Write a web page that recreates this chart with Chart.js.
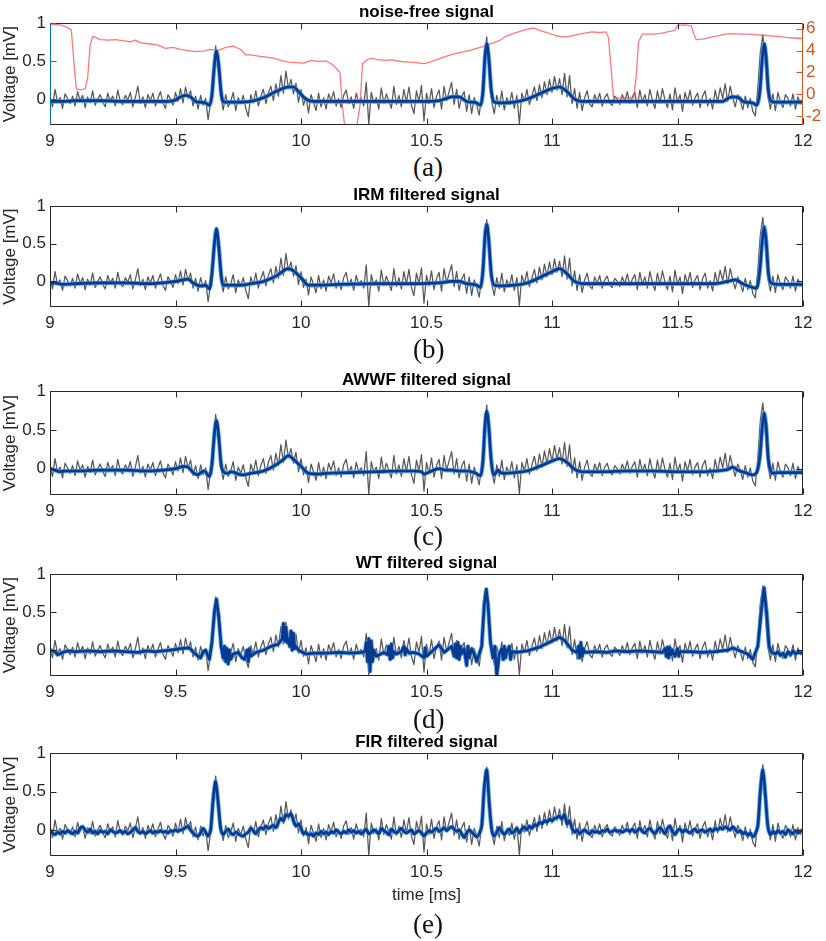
<!DOCTYPE html>
<html>
<head>
<meta charset="utf-8">
<script src="https://cdn.jsdelivr.net/npm/chart.js@4.4.1/dist/chart.umd.min.js"></script>
<style>
  body { margin: 0; background: #fff; width: 826px; height: 941px; position: relative; overflow: hidden; }
  canvas { position: absolute; left: 0; }
  .cap { position: absolute; left: 413px; font-family: "Liberation Serif", "Times New Roman", serif; font-size: 27px; line-height: 28px; color: #111; }
</style>
</head>
<body>
<canvas id="pa" width="826" height="149" style="top:0px"></canvas>
<canvas id="pb" width="826" height="148" style="top:183px"></canvas>
<canvas id="pc" width="826" height="151" style="top:368px"></canvas>
<canvas id="pd" width="826" height="149" style="top:551px"></canvas>
<canvas id="pe" width="826" height="176" style="top:730px"></canvas>
<div class="cap" style="top:153px">(a)</div>
<div class="cap" style="top:335px">(b)</div>
<div class="cap" style="top:522px">(c)</div>
<div class="cap" style="top:705px">(d)</div>
<div class="cap" style="top:910px">(e)</div>
<script>
// tick labels
const xTicks = [9, 9.5, 10, 10.5, 11, 11.5, 12];
const yTicks = [0, 0.5, 1];
const rightTicks = [-2, 0, 2, 4, 6];

// noisy input (grey), sampled every 0.01 ms from 9.00
const sampleStart = 9.0;
const sampleStep = 0.01;
const noisySignal = [
  0.03, -0.10, 0.13, -0.04, 0.02, -0.12, 0.07, 0.01, -0.06, 0.04,
  -0.09, 0.10, -0.02, 0.05, -0.11, 0.03, -0.05, 0.11, -0.08, 0.00,
  0.06, -0.04, -0.10, 0.08, -0.02, 0.04, -0.09, 0.12, -0.03, -0.07,
  0.05, -0.01, 0.09, -0.10, 0.02, 0.17, -0.06, 0.03, -0.11, 0.06,
  -0.02, 0.08, -0.09, 0.01, 0.10, -0.05, -0.12, 0.06, 0.00, -0.08,
  0.09, -0.03, 0.14, -0.05, 0.16, 0.01, 0.11, -0.09, 0.04, -0.13,
  0.05, -0.08, 0.01, -0.27, -0.04, 0.35, 0.70, 0.40, 0.03, -0.14,
  0.06, -0.10, -0.03, 0.09, -0.15, 0.02, -0.06, 0.05, -0.12, -0.23,
  0.06, -0.05, 0.11, -0.09, 0.04, 0.13, -0.06, 0.08, 0.17, -0.02,
  0.20, 0.04, 0.31, 0.08, 0.37, 0.14, 0.26, 0.07, 0.21, -0.04,
  0.13, -0.08, 0.03, -0.18, 0.06, -0.04, -0.15, 0.08, -0.10, 0.02,
  -0.13, 0.07, -0.02, 0.10, -0.09, 0.01, -0.11, 0.05, 0.12, -0.06,
  0.03, -0.12, 0.08, -0.04, 0.01, -0.09, 0.22, -0.33, 0.09, -0.05,
  0.02, -0.13, 0.15, -0.06, 0.07, -0.02, -0.12, 0.17, -0.07, 0.05,
  -0.10, 0.13, -0.04, 0.16, -0.08, -0.19, 0.11, -0.03, 0.18, -0.29,
  0.08, -0.06, 0.14, -0.11, 0.04, 0.12, -0.13, 0.17, -0.02, 0.10,
  0.22, -0.07, 0.13, -0.12, 0.03, 0.10, -0.16, 0.06, -0.19, 0.02,
  -0.08, -0.21, 0.06, 0.55, 0.82, 0.30, -0.04, -0.19, 0.05, -0.10,
  0.11, -0.14, 0.02, -0.07, 0.09, -0.12, 0.05, -0.32, 0.08, -0.03,
  0.13, -0.07, 0.05, 0.16, -0.02, 0.19, 0.02, 0.23, 0.06, 0.26,
  0.09, 0.30, 0.12, 0.27, 0.06, 0.34, 0.03, 0.31, -0.06, 0.14,
  -0.12, 0.09, -0.15, 0.02, 0.11, -0.06, -0.10, 0.06, -0.03, 0.08,
  -0.09, 0.02, 0.07, -0.05, -0.08, 0.04, 0.00, -0.07, 0.06, -0.03,
  0.10, -0.06, 0.03, 0.09, -0.11, 0.12, -0.04, 0.06, -0.09, 0.13,
  -0.02, -0.12, 0.11, -0.05, 0.14, -0.01, -0.11, 0.07, -0.14, 0.15,
  -0.04, 0.06, -0.16, 0.09, -0.03, 0.12, -0.08, 0.02, 0.08, -0.11,
  0.04, 0.11, -0.09, 0.01, -0.13, 0.12, -0.04, 0.15, 0.01, 0.20,
  -0.03, 0.17, 0.02, -0.10, 0.06, -0.02, -0.14, 0.04, -0.11, 0.01,
  -0.16, -0.22, 0.15, 0.62, 0.85, 0.45, 0.04, -0.13, 0.07, -0.15,
  0.09, -0.04, -0.11, 0.06, 0.01, -0.09, 0.07, -0.13, 0.03, -0.06,
  0.02
];

// FIR output, same sampling as the noisy input
const firSignal = [
  0.00, -0.04, -0.06, -0.03, -0.05, -0.02, -0.04, -0.01, -0.03, -0.05,
  -0.02, -0.04, 0.02, 0.04, 0.00, -0.03, 0.01, -0.04, -0.02, -0.05,
  -0.01, -0.03, -0.02, -0.05, 0.00, -0.02, -0.04, -0.03, -0.01, -0.04,
  -0.02, -0.05, -0.03, 0.00, 0.03, -0.02, -0.04, -0.02, -0.05, -0.03,
  -0.01, -0.04, -0.02, -0.03, -0.01, -0.03, -0.02, -0.04, -0.01, -0.02,
  0.00, -0.02, 0.00, 0.01, 0.03, 0.05, 0.00, -0.04, -0.07, -0.08,
  -0.04, 0.02, -0.03, -0.08, 0.00, 0.40, 0.63, 0.35, 0.02, -0.06,
  -0.02, 0.01, -0.04, -0.06, -0.03, -0.05, -0.07, -0.08, -0.05, -0.03,
  0.02, -0.01, -0.05, 0.00, 0.03, 0.01, 0.05, 0.02, 0.04, 0.06,
  0.03, 0.10, 0.15, 0.12, 0.20, 0.18, 0.21, 0.12, 0.05, 0.08,
  0.02, -0.05, -0.03, -0.07, -0.05, -0.08, -0.04, -0.06, -0.02, -0.05,
  -0.03, -0.06, -0.02, -0.04, 0.00, -0.03, -0.05, -0.02, -0.04, 0.00,
  -0.03, -0.01, -0.04, -0.02, -0.05, -0.02, 0.01, -0.05, -0.03, 0.00,
  -0.02, -0.05, 0.02, -0.01, -0.03, -0.06, 0.01, -0.02, -0.04, -0.01,
  0.02, -0.02, -0.04, -0.02, 0.00, -0.05, -0.03, -0.01, -0.04, -0.08,
  -0.04, -0.01, -0.03, 0.00, 0.02, -0.02, 0.00, 0.03, -0.01, 0.02,
  0.04, 0.01, -0.02, 0.00, -0.05, -0.10, -0.04, 0.00, -0.03, -0.06,
  -0.09, -0.05, 0.05, 0.55, 0.78, 0.35, 0.00, -0.08, -0.03, 0.03,
  -0.02, -0.06, -0.02, 0.01, -0.04, -0.02, 0.02, -0.04, 0.01, 0.04,
  0.00, 0.05, 0.02, 0.07, 0.05, 0.10, 0.08, 0.12, 0.10, 0.14,
  0.12, 0.15, 0.16, 0.18, 0.14, 0.20, 0.08, 0.12, 0.02, -0.03,
  0.00, -0.05, -0.02, 0.00, -0.03, -0.05, -0.01, -0.03, -0.02, -0.04,
  -0.01, -0.02, 0.01, -0.03, -0.02, 0.00, -0.02, -0.01, -0.03, -0.01,
  0.00, -0.02, 0.01, -0.03, -0.01, 0.02, -0.02, -0.04, 0.00, 0.02,
  -0.02, -0.05, 0.00, 0.03, -0.01, -0.05, 0.02, 0.05, -0.02, -0.06,
  -0.01, 0.01, -0.03, 0.00, -0.02, -0.04, -0.01, 0.01, -0.03, -0.01,
  0.00, -0.03, -0.01, 0.01, -0.02, 0.02, 0.00, 0.03, 0.01, 0.04,
  0.02, 0.00, 0.04, 0.01, -0.03, -0.01, -0.05, -0.03, -0.07, -0.04,
  -0.09, -0.05, 0.05, 0.50, 0.78, 0.45, 0.05, -0.06, -0.02, -0.05,
  -0.01, -0.04, -0.02, -0.06, 0.00, -0.03, -0.05, -0.01, -0.04, -0.02,
  0.00
];

// noise-free reference (a)
const cleanTime = [9.00, 9.05, 9.10, 9.20, 9.30, 9.40, 9.47, 9.50, 9.52, 9.54, 9.56, 9.58, 9.60, 9.62, 9.635, 9.645, 9.655, 9.663, 9.672, 9.682, 9.69, 9.70, 9.75, 9.80, 9.85, 9.90, 9.95, 9.97, 9.99, 10.02, 10.05, 10.10, 10.30, 10.50, 10.55, 10.58, 10.60, 10.63, 10.66, 10.70, 10.715, 10.725, 10.733, 10.74, 10.748, 10.758, 10.77, 10.80, 10.85, 10.90, 10.95, 11.00, 11.03, 11.06, 11.09, 11.12, 11.30, 11.60, 11.68, 11.70, 11.72, 11.745, 11.76, 11.80, 11.815, 11.828, 11.838, 11.845, 11.853, 11.862, 11.875, 11.90, 12.00];
const cleanSignal = [-0.03, -0.03, -0.02, -0.02, -0.03, -0.03, -0.03, -0.01, 0.03, 0.05, 0.03, -0.03, -0.04, -0.05, -0.08, 0.05, 0.45, 0.63, 0.45, 0.08, -0.03, -0.04, -0.04, -0.03, 0.02, 0.10, 0.16, 0.16, 0.10, 0.00, -0.03, -0.03, -0.03, -0.03, -0.02, 0.01, 0.03, 0.03, -0.03, -0.05, -0.08, 0.10, 0.55, 0.73, 0.55, 0.12, -0.04, -0.05, -0.04, 0.00, 0.07, 0.14, 0.16, 0.10, 0.00, -0.03, -0.03, -0.03, -0.03, 0.01, 0.03, 0.02, -0.03, -0.05, -0.08, 0.10, 0.55, 0.73, 0.55, 0.12, -0.03, -0.04, -0.04];

// channel on the right axis of (a)
const redTime = [9.00, 9.02, 9.04, 9.06, 9.075, 9.085, 9.095, 9.105, 9.12, 9.14, 9.15, 9.16, 9.17, 9.18, 9.20, 9.23, 9.26, 9.29, 9.32, 9.34, 9.36, 9.40, 9.43, 9.46, 9.49, 9.52, 9.55, 9.58, 9.61, 9.64, 9.67, 9.70, 9.73, 9.76, 9.78, 9.80, 9.83, 9.86, 9.89, 9.92, 9.95, 9.98, 10.01, 10.04, 10.07, 10.10, 10.12, 10.14, 10.155, 10.165, 10.175, 10.22, 10.235, 10.245, 10.26, 10.28, 10.30, 10.33, 10.36, 10.40, 10.43, 10.46, 10.49, 10.52, 10.55, 10.58, 10.61, 10.64, 10.67, 10.70, 10.73, 10.76, 10.79, 10.82, 10.85, 10.88, 10.91, 10.93, 10.95, 10.98, 11.01, 11.04, 11.07, 11.10, 11.13, 11.16, 11.19, 11.215, 11.225, 11.235, 11.245, 11.27, 11.30, 11.325, 11.335, 11.345, 11.36, 11.40, 11.43, 11.46, 11.49, 11.50, 11.53, 11.555, 11.565, 11.575, 11.60, 11.63, 11.66, 11.69, 11.72, 11.75, 11.78, 11.81, 11.84, 11.87, 11.90, 11.93, 11.96, 12.00];
const redValues = [6.35, 6.4, 6.35, 6.2, 6.0, 5.9, 3.0, 0.5, 0.4, 0.5, 1.5, 4.5, 5.3, 5.2, 5.0, 4.95, 5.0, 4.9, 4.8, 4.95, 4.7, 4.6, 4.5, 4.2, 4.3, 4.1, 4.0, 3.9, 3.95, 4.1, 4.0, 4.3, 4.4, 4.1, 3.6, 3.6, 3.5, 3.4, 3.3, 3.1, 2.95, 2.9, 2.85, 3.1, 3.0, 3.05, 2.8, 2.4, 2.0, -1.0, -3.2, -3.2, -1.0, 2.8, 3.1, 3.3, 3.2, 3.1, 3.15, 3.0, 2.95, 2.9, 2.8, 3.0, 3.25, 3.5, 3.7, 3.85, 4.0, 4.2, 4.4, 4.65, 4.9, 5.35, 5.6, 5.8, 6.0, 6.05, 5.85, 5.65, 5.4, 5.25, 5.3, 5.45, 5.6, 5.7, 5.65, 5.7, 5.2, 2.5, -0.3, -0.35, -0.3, -0.35, 1.5, 4.8, 5.5, 5.5, 5.55, 5.7, 5.85, 6.3, 6.35, 6.25, 5.5, 5.0, 5.05, 5.2, 5.35, 5.5, 5.55, 5.5, 5.5, 5.45, 5.4, 5.35, 5.3, 5.2, 5.15, 5.1];

// IRM (b)
const irmTime = [9.00, 9.02, 9.05, 9.10, 9.20, 9.30, 9.40, 9.45, 9.50, 9.53, 9.55, 9.57, 9.60, 9.62, 9.635, 9.645, 9.655, 9.663, 9.672, 9.682, 9.69, 9.72, 9.76, 9.80, 9.85, 9.90, 9.95, 9.97, 10.00, 10.03, 10.06, 10.15, 10.30, 10.45, 10.55, 10.60, 10.63, 10.66, 10.70, 10.715, 10.725, 10.733, 10.74, 10.748, 10.758, 10.77, 10.80, 10.85, 10.90, 10.95, 11.00, 11.03, 11.06, 11.09, 11.12, 11.30, 11.50, 11.65, 11.70, 11.73, 11.76, 11.79, 11.815, 11.828, 11.838, 11.845, 11.853, 11.862, 11.872, 11.90, 12.00];
const irmSignal = [-0.03, -0.02, -0.04, -0.03, -0.02, -0.02, -0.03, -0.02, 0.00, 0.02, 0.03, -0.02, -0.06, -0.05, -0.10, 0.10, 0.50, 0.70, 0.48, 0.08, -0.05, -0.05, -0.05, -0.03, 0.00, 0.07, 0.17, 0.14, 0.05, -0.05, -0.05, -0.04, -0.03, -0.03, -0.02, 0.00, 0.00, -0.03, -0.05, -0.08, 0.15, 0.60, 0.76, 0.55, 0.10, -0.05, -0.06, -0.05, -0.02, 0.05, 0.13, 0.17, 0.10, 0.00, -0.03, -0.03, -0.03, -0.03, 0.00, 0.02, -0.03, -0.07, -0.09, 0.15, 0.55, 0.73, 0.55, 0.12, -0.02, -0.04, -0.04];

// AWWF (c)
const awwfTime = [9.00, 9.02, 9.04, 9.06, 9.10, 9.20, 9.30, 9.40, 9.45, 9.50, 9.535, 9.55, 9.57, 9.59, 9.605, 9.615, 9.635, 9.645, 9.655, 9.663, 9.672, 9.682, 9.695, 9.71, 9.72, 9.735, 9.75, 9.77, 9.80, 9.85, 9.90, 9.93, 9.95, 9.97, 10.00, 10.03, 10.07, 10.10, 10.20, 10.30, 10.40, 10.45, 10.48, 10.49, 10.50, 10.52, 10.55, 10.58, 10.60, 10.63, 10.66, 10.69, 10.715, 10.725, 10.733, 10.74, 10.748, 10.758, 10.768, 10.775, 10.785, 10.795, 10.81, 10.85, 10.90, 10.95, 11.00, 11.03, 11.06, 11.09, 11.12, 11.20, 11.30, 11.40, 11.50, 11.60, 11.65, 11.70, 11.72, 11.74, 11.77, 11.80, 11.815, 11.828, 11.838, 11.845, 11.853, 11.862, 11.872, 11.88, 11.90, 12.00];
const awwfSignal = [0.00, -0.02, -0.04, -0.03, -0.03, -0.02, -0.02, -0.03, -0.02, 0.00, 0.03, 0.02, -0.05, -0.08, -0.04, -0.03, -0.10, 0.05, 0.45, 0.62, 0.42, 0.05, -0.05, -0.06, -0.04, -0.05, -0.07, -0.08, -0.06, -0.03, 0.05, 0.12, 0.17, 0.12, 0.03, -0.06, -0.07, -0.06, -0.05, -0.04, -0.03, -0.03, -0.04, -0.07, -0.06, -0.03, 0.00, -0.02, -0.02, -0.03, -0.03, -0.05, -0.09, 0.10, 0.55, 0.74, 0.55, 0.10, -0.08, -0.06, -0.02, -0.05, -0.06, -0.05, -0.03, 0.03, 0.10, 0.13, 0.08, -0.01, -0.04, -0.04, -0.03, -0.03, -0.04, -0.04, -0.03, -0.01, 0.02, -0.02, -0.05, -0.08, -0.05, 0.15, 0.55, 0.72, 0.55, 0.12, -0.03, -0.06, -0.05, -0.05];

// WT (d)
const wtTime = [9.00, 9.02, 9.03, 9.05, 9.07, 9.10, 9.15, 9.20, 9.25, 9.30, 9.35, 9.38, 9.42, 9.48, 9.52, 9.555, 9.57, 9.59, 9.60, 9.61, 9.62, 9.635, 9.645, 9.655, 9.663, 9.672, 9.682, 9.69, 9.695, 9.70, 9.705, 9.71, 9.715, 9.72, 9.73, 9.75, 9.765, 9.775, 9.785, 9.79, 9.795, 9.80, 9.82, 9.85, 9.88, 9.91, 9.925, 9.93, 9.935, 9.94, 9.945, 9.95, 9.955, 9.96, 9.965, 9.97, 9.975, 9.98, 9.99, 10.02, 10.05, 10.10, 10.15, 10.20, 10.24, 10.255, 10.26, 10.265, 10.27, 10.275, 10.28, 10.285, 10.29, 10.30, 10.33, 10.345, 10.35, 10.355, 10.36, 10.365, 10.37, 10.38, 10.40, 10.41, 10.415, 10.42, 10.43, 10.45, 10.47, 10.49, 10.495, 10.50, 10.52, 10.55, 10.57, 10.60, 10.61, 10.615, 10.62, 10.625, 10.63, 10.635, 10.64, 10.65, 10.66, 10.665, 10.67, 10.68, 10.69, 10.70, 10.71, 10.72, 10.73, 10.738, 10.745, 10.755, 10.765, 10.772, 10.78, 10.79, 10.80, 10.805, 10.81, 10.815, 10.82, 10.83, 10.835, 10.84, 10.86, 10.90, 10.95, 11.00, 11.03, 11.05, 11.08, 11.10, 11.105, 11.11, 11.115, 11.12, 11.125, 11.13, 11.17, 11.22, 11.25, 11.30, 11.35, 11.40, 11.44, 11.45, 11.455, 11.46, 11.465, 11.47, 11.475, 11.48, 11.49, 11.50, 11.505, 11.51, 11.55, 11.60, 11.65, 11.70, 11.72, 11.75, 11.78, 11.80, 11.82, 11.835, 11.845, 11.855, 11.865, 11.875, 11.89, 11.90, 11.91, 11.92, 11.93, 11.94, 11.95, 11.96, 11.97, 11.98, 12.00];
const wtSignal = [0.00, -0.02, -0.06, -0.03, -0.01, -0.02, -0.01, -0.02, -0.01, -0.02, -0.03, -0.01, -0.02, 0.00, 0.02, 0.03, -0.02, -0.08, -0.10, -0.02, 0.00, -0.12, 0.10, 0.50, 0.67, 0.45, 0.05, -0.10, 0.05, -0.15, 0.02, -0.18, 0.00, -0.12, -0.05, -0.03, -0.10, -0.12, 0.00, -0.15, 0.02, -0.08, -0.03, 0.00, 0.05, 0.08, 0.15, 0.35, 0.12, 0.30, 0.10, 0.15, 0.05, 0.25, 0.00, 0.22, 0.02, 0.05, 0.00, -0.05, -0.04, -0.04, -0.03, -0.04, -0.03, -0.02, 0.10, -0.15, 0.15, -0.28, 0.12, -0.15, 0.00, -0.08, -0.03, -0.06, 0.05, -0.12, 0.08, -0.10, -0.02, -0.05, -0.02, 0.05, -0.06, 0.02, -0.04, -0.03, -0.05, -0.10, 0.03, -0.08, -0.02, 0.07, -0.03, 0.05, -0.08, 0.08, -0.10, 0.10, -0.12, 0.05, -0.05, 0.02, -0.20, 0.05, -0.10, 0.02, -0.05, -0.15, -0.05, 0.05, 0.60, 0.80, 0.60, 0.10, -0.10, 0.05, -0.33, -0.05, 0.02, -0.12, 0.05, -0.10, -0.02, 0.05, -0.12, -0.02, -0.03, -0.01, 0.04, 0.12, 0.17, 0.13, 0.00, -0.03, 0.05, -0.10, 0.10, -0.08, 0.02, -0.03, -0.02, -0.03, -0.01, -0.02, -0.01, -0.02, -0.03, 0.02, -0.08, 0.04, -0.10, 0.03, -0.06, 0.00, -0.08, 0.02, -0.08, -0.02, -0.02, -0.03, -0.02, 0.00, 0.03, -0.01, -0.05, -0.12, 0.05, 0.55, 0.82, 0.50, 0.05, -0.03, -0.05, -0.02, -0.07, -0.04, -0.09, -0.02, -0.06, -0.01, -0.05, -0.03, -0.04];

const panelTitles = ['noise-free signal', 'IRM filtered signal', 'AWWF filtered signal', 'WT filtered signal', 'FIR filtered signal'];

const FONT = '"Liberation Sans", Arial, Helvetica, sans-serif';
const DARK = '#262626';

function pts(times, values) {
    return values.map((v, i) => ({ x: times[i], y: v }));
}

function sampled(values) {
    return values.map((v, i) => ({ x: +(sampleStart + i * sampleStep).toFixed(2), y: v }));
}

// MATLAB-like box with inward tick marks
const boxPlugin = {
    id: 'box',
    afterDatasetsDraw(chart) {
        const { ctx, chartArea: a } = chart;
        const sx = chart.scales.x, sy = chart.scales.y, sr = chart.scales.y1;
        const L = Math.round(a.left) + 0.5, R = Math.round(a.right) - 0.5;
        const T = Math.round(a.top) + 0.5, B = Math.round(a.bottom) - 0.5;
        const len = 6;
        const seg = (c, x1, y1, x2, y2) => {
            ctx.strokeStyle = c;
            ctx.beginPath(); ctx.moveTo(x1, y1); ctx.lineTo(x2, y2); ctx.stroke();
        };
        ctx.save();
        ctx.lineWidth = 1;
        seg(DARK, L, T, R, T);
        seg(DARK, L, B, R, B);
        xTicks.forEach(v => {
            const p = Math.round(sx.getPixelForValue(v)) + 0.5;
            seg(DARK, p, B, p, B - len);
            seg(DARK, p, T, p, T + len);
        });
        const leftColor = sr ? '#0072bd' : DARK;
        const rightColor = sr ? '#d95319' : DARK;
        seg(leftColor, L, T, L, B);
        seg(rightColor, R, T, R, B);
        yTicks.forEach(v => {
            const p = Math.round(sy.getPixelForValue(v)) + 0.5;
            seg(leftColor, L, p, L + len, p);
            if (!sr) seg(DARK, R, p, R - len, p);
        });
        if (sr) {
            rightTicks.forEach(v => {
                const p = Math.round(sr.getPixelForValue(v)) + 0.5;
                seg(rightColor, R, p, R - len, p);
            });
        }
        ctx.restore();
    }
};

function makePanel(id, title, bluePoints, opts) {
    const datasets = [
        { data: sampled(noisySignal), borderColor: '#575757', borderWidth: 1.25, order: 4 },
        { data: bluePoints, borderColor: 'rgba(70,150,230,0.85)', borderWidth: 4.4, order: 2, tension: opts.tension, cubicInterpolationMode: opts.cubic },
        { data: bluePoints, borderColor: '#083a8f', borderWidth: 2.7, order: 1, tension: opts.tension, cubicInterpolationMode: opts.cubic }
    ];
    if (opts.red) {
        datasets.push({ data: pts(redTime, redValues), yAxisID: 'y1', borderColor: 'rgba(255,95,95,0.85)', borderWidth: 1.3, order: 3 });
    }

    const scales = {
        x: {
            type: 'linear', min: 9, max: 12,
            grid: { display: false, drawTicks: false },
            border: { display: false },
            afterBuildTicks: s => { s.ticks = xTicks.map(v => ({ value: v })); },
            afterFit: s => { s.height = opts.xTitle ? 50 : 24; },
            ticks: { autoSkip: false, maxRotation: 0, padding: 6, color: DARK, font: { family: FONT, size: 17 }, callback: v => String(v) },
            title: { display: !!opts.xTitle, text: opts.xTitle || '', color: DARK, font: { family: FONT, size: 17 }, padding: { top: 0, bottom: 0 } }
        },
        y: {
            min: -0.34, max: 1,
            grid: { display: false, drawTicks: false },
            border: { display: false },
            afterBuildTicks: s => { s.ticks = yTicks.map(v => ({ value: v })); },
            afterFit: s => { s.width = 50; },
            ticks: { padding: 4, color: DARK, font: { family: FONT, size: 17 }, callback: v => String(v) },
            title: { display: true, text: 'Voltage [mV]', color: DARK, font: { family: FONT, size: 17 }, padding: { top: 0, bottom: 0 } }
        }
    };
    if (opts.red) {
        scales.y1 = {
            position: 'right', min: -2.8, max: 6.5,
            grid: { display: false, drawTicks: false },
            border: { display: false },
            afterBuildTicks: s => { s.ticks = rightTicks.map(v => ({ value: v })); },
            afterFit: s => { s.width = 23; },
            ticks: { padding: 3, color: '#d95319', font: { family: FONT, size: 17 }, callback: v => String(v) }
        };
    }

    new Chart(document.getElementById(id), {
        type: 'line',
        data: { datasets },
        options: {
            responsive: false,
            animation: false,
            devicePixelRatio: 1,
            elements: { point: { radius: 0 }, line: { borderJoinStyle: 'round', borderCapStyle: 'round' } },
            layout: { padding: { top: 2, left: 0, right: opts.red ? 0 : 23, bottom: 0 } },
            plugins: {
                legend: { display: false },
                tooltip: { enabled: false },
                title: {
                    display: true, text: title, fullSize: false, color: '#000',
                    font: { family: FONT, size: 17, weight: 'bold', lineHeight: 1.2 },
                    padding: { top: 0, bottom: 0.8 }
                }
            },
            scales
        },
        plugins: [boxPlugin]
    });
}

makePanel('pa', panelTitles[0], pts(cleanTime, cleanSignal), { cubic: 'monotone', red: true });
makePanel('pb', panelTitles[1], pts(irmTime, irmSignal), { cubic: 'monotone' });
makePanel('pc', panelTitles[2], pts(awwfTime, awwfSignal), { cubic: 'monotone' });
makePanel('pd', panelTitles[3], pts(wtTime, wtSignal), { tension: 0 });
makePanel('pe', panelTitles[4], sampled(firSignal), { tension: 0.3, xTitle: 'time [ms]' });
</script>
</body>
</html>
